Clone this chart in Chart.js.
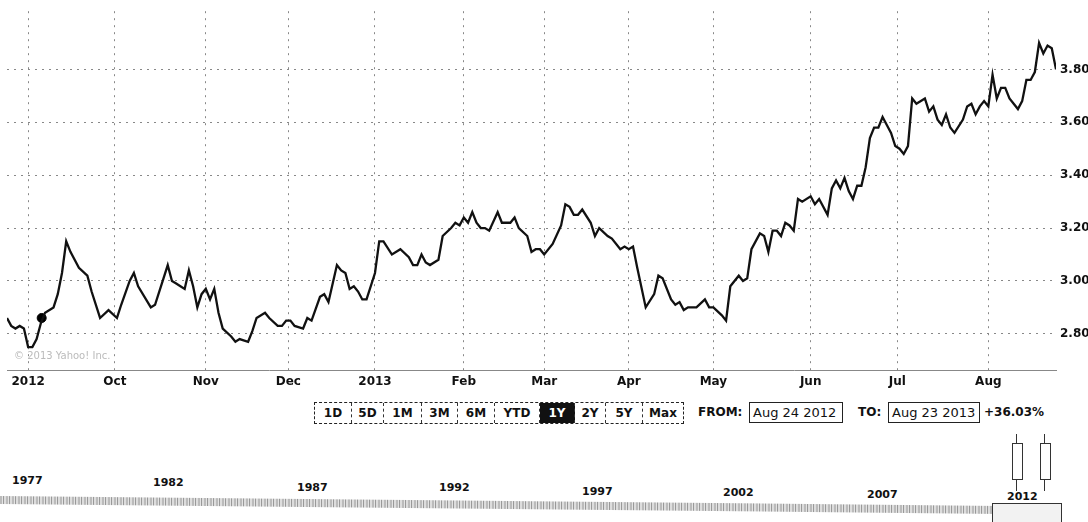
<!DOCTYPE html>
<html>
<head>
<meta charset="utf-8">
<script src="https://cdn.jsdelivr.net/npm/chart.js@4.4.0/dist/chart.umd.min.js"></script>
<style>
    body { margin: 0; background: #fff; font-family: "DejaVu Sans", sans-serif; color: #111; }
    #page { position: relative; width: 1088px; height: 522px; overflow: hidden; }
    #wrap { position: absolute; left: 0; top: 0; width: 1088px; height: 393px; }
    .abs { position: absolute; white-space: nowrap; }
    .btns { position: absolute; left: 314px; top: 402px; height: 20px; display: flex; border: 1px dashed #222; }
    .btns span { display: block; font-weight: bold; font-size: 12px; line-height: 20px; text-align: center; border-right: 1px dashed #333; }
    .btns span.on { background: #111; color: #fff; }
    .box { position: absolute; border: 1.5px solid #222; height: 19px; line-height: 19px; font-size: 13px; padding: 0 3px; }
    .yr { position: absolute; font-weight: bold; font-size: 11px; z-index: 2; }
</style>
</head>
<body>
<div id="page">
    <div id="wrap"><canvas id="mainGraph"></canvas></div>
    <div class="abs" style="left:14px; top:350px; font-size:10px; color:#bbb;">© 2013 Yahoo! Inc.</div>

    <div class="btns" id="btns"></div>
    <div class="abs" style="left:698px; top:405px; font-weight:bold; font-size:12px;">FROM:</div>
    <div class="box" style="left:749px; top:402px; width:86px;">Aug 24 2012</div>
    <div class="abs" style="left:858px; top:405px; font-weight:bold; font-size:12px;">TO:</div>
    <div class="box" style="left:888px; top:402px; width:84px;">Aug 23 2013</div>
    <div class="abs" style="left:984px; top:405px; font-weight:bold; font-size:12px;">+36.03%</div>

    <!-- navigator -->
    <div class="abs" style="left:0; top:496px; width:1000px; height:8px; transform: rotate(0.57deg); transform-origin: left top;
        background: repeating-linear-gradient(90deg, #bbb 0 2px, #e4e4e4 2px 3px, #999 3px 4px, #ddd 4px 6px);"></div>
    <div class="abs" style="left:1012px; top:443px; width:9px; height:35px; border:1px solid #333;"></div>
    <div class="abs" style="left:1040px; top:443px; width:9px; height:35px; border:1px solid #333;"></div>
    <div class="abs" style="left:1016px; top:434px; width:1px; height:9px; background:#333;"></div>
    <div class="abs" style="left:1044px; top:434px; width:1px; height:9px; background:#333;"></div>
    <div class="abs" style="left:1016px; top:479px; width:1px; height:12px; background:#333;"></div>
    <div class="abs" style="left:1044px; top:479px; width:1px; height:12px; background:#333;"></div>
    <div class="abs" style="left:992px; top:503px; width:68px; height:20px; border:1px solid #333; background:#f2f2f2;"></div>
    <div id="nav"></div>
</div>

<script>
// Price data (trading day index from Aug 24 2012)
const days = [0, 1, 2, 3, 4, 5, 6, 7, 8, 9, 11, 12, 13, 14, 15, 17, 19, 20, 22, 24, 26, 27, 29, 30, 31, 34, 35, 37, 38, 39,
    40, 41, 42, 43, 44, 45, 46, 47, 48, 49, 50, 51, 53, 54, 55, 57, 58, 59, 61, 62, 64, 65, 66, 67, 68, 70, 71, 72, 74, 75,
    76, 77, 78, 79, 80, 81, 82, 83, 84, 85, 87, 88, 89, 91, 93, 95, 96, 97, 98, 99, 100, 102, 103, 105, 106, 107, 108, 109, 110, 111,
    112, 113, 114, 116, 117, 119, 120, 121, 123, 124, 125, 126, 127, 129, 131, 132, 133, 134, 135, 136, 138, 139, 140, 142, 143, 145, 146, 147, 148, 149,
    151, 153, 154, 155, 157, 158, 159, 160, 161, 163, 165, 166, 167, 169, 170, 171, 173, 174, 175, 176, 178, 179, 180, 181, 182, 183, 184, 185, 186, 187,
    188, 190, 191, 192, 194, 195, 196, 197, 198, 199, 200, 201, 202, 203, 204, 205, 206, 207, 208, 209, 210, 211, 212, 213, 214, 215, 217, 218, 219, 220,
    221, 222, 223, 224, 226, 227, 228, 229, 230, 231, 232, 233, 234, 235, 236, 237, 239, 240, 241, 242, 243, 244, 245, 246, 247, 248];
const prices = [2.86, 2.83, 2.82, 2.83, 2.82, 2.75, 2.75, 2.78, 2.84, 2.88, 2.90, 2.95, 3.03, 3.15, 3.11, 3.05, 3.02, 2.96, 2.86, 2.89, 2.86, 2.91, 3.00, 3.03, 2.98, 2.90, 2.91, 3.01, 3.06, 3.00,
    2.99, 2.98, 2.97, 3.04, 2.98, 2.90, 2.95, 2.97, 2.93, 2.97, 2.88, 2.82, 2.79, 2.77, 2.78, 2.77, 2.81, 2.86, 2.88, 2.86, 2.83, 2.83, 2.85, 2.85, 2.83, 2.82, 2.86, 2.85, 2.94, 2.95,
    2.92, 2.99, 3.06, 3.04, 3.03, 2.97, 2.98, 2.96, 2.93, 2.93, 3.03, 3.15, 3.15, 3.10, 3.12, 3.09, 3.06, 3.06, 3.10, 3.07, 3.06, 3.08, 3.17, 3.20, 3.22, 3.21, 3.24, 3.22, 3.26, 3.22,
    3.20, 3.20, 3.19, 3.26, 3.22, 3.22, 3.24, 3.20, 3.17, 3.11, 3.12, 3.12, 3.10, 3.14, 3.21, 3.29, 3.28, 3.25, 3.25, 3.27, 3.22, 3.17, 3.20, 3.17, 3.16, 3.12, 3.13, 3.12, 3.13, 3.05,
    2.90, 2.95, 3.02, 3.01, 2.93, 2.91, 2.92, 2.89, 2.90, 2.90, 2.93, 2.90, 2.90, 2.87, 2.85, 2.98, 3.02, 3.00, 3.01, 3.12, 3.18, 3.17, 3.11, 3.19, 3.19, 3.17, 3.22, 3.21, 3.19, 3.31,
    3.30, 3.32, 3.29, 3.31, 3.25, 3.35, 3.38, 3.35, 3.39, 3.34, 3.31, 3.36, 3.36, 3.43, 3.54, 3.58, 3.58, 3.62, 3.59, 3.56, 3.51, 3.50, 3.48, 3.51, 3.69, 3.67, 3.69, 3.64, 3.66, 3.61,
    3.59, 3.63, 3.58, 3.56, 3.61, 3.66, 3.67, 3.63, 3.66, 3.68, 3.66, 3.78, 3.69, 3.73, 3.73, 3.69, 3.65, 3.68, 3.76, 3.76, 3.79, 3.90, 3.86, 3.89, 3.88, 3.80];

// Event marker on the line
const markerDays = [8.2];
const markerPrices = [2.86];

// Axis labels
const monthDays = [5, 25.5, 47, 66.5, 87, 108, 127, 147, 167, 190, 210.5, 232];
const monthLabels = ['2012', 'Oct', 'Nov', 'Dec', '2013', 'Feb', 'Mar', 'Apr', 'May', 'Jun', 'Jul', 'Aug'];
const priceTicks = [2.80, 3.00, 3.20, 3.40, 3.60, 3.80];

// Range buttons and navigator years
const ranges = ['1D', '5D', '1M', '3M', '6M', 'YTD', '1Y', '2Y', '5Y', 'Max'];
const rangeWidths = [36, 31, 37, 35, 36, 44, 34, 30, 36, 40];
const navYears = ['1977', '1982', '1987', '1992', '1997', '2002', '2007', '2012'];
const navX = [12, 153, 297, 439, 582, 723, 867, 1007];
const navY = [474, 476, 481, 481, 485, 486, 488, 490];

const btns = document.getElementById('btns');
ranges.forEach((r, i) => {
    const s = document.createElement('span');
    s.textContent = r;
    s.style.width = rangeWidths[i] + 'px';
    if (r === '1Y') s.className = 'on';
    if (i === ranges.length - 1) s.style.borderRight = 'none';
    btns.appendChild(s);
});

const nav = document.getElementById('nav');
navYears.forEach((y, i) => {
    const d = document.createElement('div');
    d.className = 'yr';
    d.textContent = y;
    d.style.left = navX[i] + 'px';
    d.style.top = navY[i] + 'px';
    nav.appendChild(d);
});

const tickFont = { family: 'DejaVu Sans', size: 12, weight: 'bold' };

const mainGraph = document.getElementById('mainGraph').getContext('2d');

new Chart(mainGraph, {
    type: 'line',
    data: {
        datasets: [
            {
                label: 'Price',
                data: days.map((d, i) => ({ x: d, y: prices[i] })),
                borderColor: '#111',
                borderWidth: 2.3,
                pointRadius: 0,
                tension: 0
            },
            {
                label: 'Event',
                data: markerDays.map((d, i) => ({ x: d, y: markerPrices[i] })),
                showLine: false,
                pointRadius: 4.5,
                pointBackgroundColor: '#000',
                pointBorderColor: '#000'
            }
        ]
    },
    options: {
        responsive: true,
        maintainAspectRatio: false,
        animation: false,
        layout: { padding: { left: 7, top: 0, right: 0, bottom: 0 } },
        plugins: {
            legend: { display: false },
            tooltip: { enabled: false }
        },
        scales: {
            x: {
                type: 'linear',
                min: 0,
                max: 248,
                afterBuildTicks: (axis) => {
                    axis.ticks = monthDays.map(v => ({ value: v }));
                },
                ticks: {
                    autoSkip: false,
                    maxRotation: 0,
                    padding: 4,
                    color: '#111',
                    font: tickFont,
                    callback: (value) => {
                        const i = monthDays.indexOf(value);
                        return i >= 0 ? monthLabels[i] : '';
                    }
                },
                grid: { color: '#888', lineWidth: 1, drawTicks: false },
                border: { display: true, color: '#888', dash: [2, 5] }
            },
            y: {
                position: 'right',
                min: 2.661,
                max: 4.02,
                afterBuildTicks: (axis) => {
                    axis.ticks = priceTicks.map(v => ({ value: v }));
                },
                afterFit: (axis) => {
                    axis.width = 32;
                },
                ticks: {
                    padding: 4,
                    color: '#111',
                    font: tickFont,
                    callback: (value) => value.toFixed(2)
                },
                grid: { color: '#888', lineWidth: 1, drawTicks: false },
                border: { display: false, dash: [2, 5] }
            }
        }
    }
});
</script>
</body>
</html>
